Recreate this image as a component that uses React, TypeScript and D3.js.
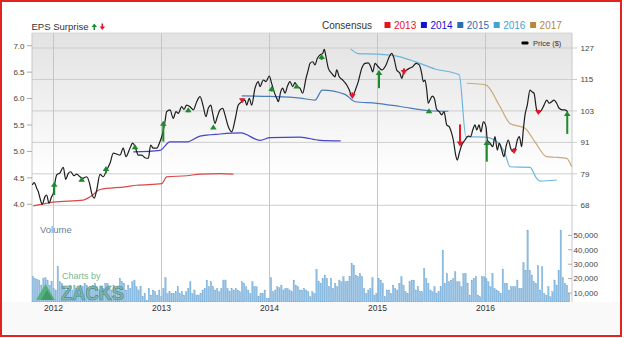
import React from "react";
import * as d3 from "d3";

// ---------- axis ticks ----------
const yearTicks = [2012, 2013, 2014, 2015, 2016];
const epsTicks = [4.0, 4.5, 5.0, 5.5, 6.0, 6.5, 7.0];
const priceTicks = [67.5, 79.4, 91.3, 103.2, 115.1, 127.0];
const volumeTicks = [10000, 20000, 30000, 40000, 50000];

// ---------- price (decimal year, $) ----------
const priceDates = [
  2011.804, 2011.822, 2011.845, 2011.859, 2011.875, 2011.896, 2011.921, 2011.937, 2011.958, 2011.983,
  2011.998, 2012.007, 2012.03, 2012.06, 2012.091, 2012.113, 2012.137, 2012.159, 2012.19, 2012.215,
  2012.245, 2012.27, 2012.307, 2012.332, 2012.354, 2012.378, 2012.4, 2012.431, 2012.461, 2012.493,
  2012.523, 2012.554, 2012.585, 2012.616, 2012.646, 2012.671, 2012.708, 2012.733, 2012.755, 2012.785,
  2012.817, 2012.847, 2012.878, 2012.9, 2012.924, 2012.956, 2012.986, 2013.007, 2013.032, 2013.048,
  2013.079, 2013.109, 2013.134, 2013.156, 2013.187, 2013.208, 2013.233, 2013.264, 2013.295, 2013.326,
  2013.357, 2013.387, 2013.412, 2013.433, 2013.456, 2013.474, 2013.495, 2013.517, 2013.542, 2013.567,
  2013.588, 2013.619, 2013.65, 2013.681, 2013.711, 2013.743, 2013.773, 2013.789, 2013.813, 2013.835,
  2013.866, 2013.896, 2013.912, 2013.943, 2013.968, 2013.998, 2014.02, 2014.042, 2014.067, 2014.082,
  2014.104, 2014.122, 2014.144, 2014.165, 2014.19, 2014.215, 2014.236, 2014.257, 2014.282, 2014.307,
  2014.338, 2014.359, 2014.375, 2014.4, 2014.421, 2014.443, 2014.468, 2014.493, 2014.507, 2014.523,
  2014.545, 2014.576, 2014.607, 2014.622, 2014.646, 2014.678, 2014.715, 2014.739, 2014.761, 2014.776,
  2014.801, 2014.822, 2014.854, 2014.884, 2014.915, 2014.937, 2014.956, 2014.977, 2015.007, 2015.039,
  2015.079, 2015.109, 2015.132, 2015.153, 2015.178, 2015.208, 2015.224, 2015.245, 2015.27, 2015.295,
  2015.326, 2015.357, 2015.387, 2015.409, 2015.424, 2015.44, 2015.456, 2015.47, 2015.486, 2015.507,
  2015.526, 2015.548, 2015.572, 2015.595, 2015.616, 2015.641, 2015.665, 2015.687, 2015.702, 2015.724,
  2015.739, 2015.757, 2015.78, 2015.81, 2015.841, 2015.863, 2015.882, 2015.903, 2015.919, 2015.94,
  2015.958, 2015.98, 2016.005, 2016.017, 2016.042, 2016.067, 2016.088, 2016.109, 2016.128, 2016.15,
  2016.171, 2016.19, 2016.211, 2016.233, 2016.252, 2016.273, 2016.295, 2016.313, 2016.335, 2016.35,
  2016.366, 2016.387, 2016.412, 2016.428, 2016.449, 2016.474, 2016.498, 2016.52, 2016.542, 2016.567,
  2016.591, 2016.613, 2016.634, 2016.659, 2016.682, 2016.711, 2016.736, 2016.761,
];
const priceValues = [
  75.2, 76.1, 73.9, 72.7, 70.2, 67.9, 70.8, 71.4, 68.3, 70.8,
  72.0, 74.5, 79.0, 79.8, 81.9, 77.3, 79.6, 80.2, 78.7, 79.3,
  78.3, 77.7, 78.3, 76.1, 72.0, 70.2, 73.3, 79.2, 78.3, 80.9,
  83.4, 87.2, 86.9, 86.5, 89.1, 85.9, 89.1, 91.0, 89.7, 86.5,
  86.5, 85.5, 85.3, 90.3, 89.1, 89.1, 91.6, 94.1, 99.1, 102.9,
  103.6, 100.4, 102.9, 102.3, 104.8, 103.8, 105.4, 104.8, 103.6, 106.7,
  108.6, 104.8, 101.0, 104.2, 105.4, 102.3, 98.5, 101.0, 103.6, 104.2,
  101.7, 97.2, 95.3, 99.8, 105.4, 106.7, 107.3, 105.4, 108.0, 105.4,
  111.8, 114.3, 112.4, 114.9, 114.3, 116.4, 113.6, 110.5, 108.0, 106.7,
  110.5, 111.8, 109.9, 112.4, 114.3, 112.4, 113.9, 112.4, 111.8, 109.9,
  115.5, 118.7, 121.2, 121.8, 120.6, 123.1, 124.4, 125.0, 126.5, 123.7,
  119.3, 117.4, 116.1, 118.7, 116.1, 114.9, 113.0, 111.1, 108.6, 109.2,
  111.8, 114.3, 119.3, 121.2, 121.4, 119.9, 118.0, 121.2, 119.9, 118.7,
  120.6, 123.7, 125.0, 123.1, 118.7, 117.4, 115.5, 118.0, 118.7, 119.3,
  119.9, 121.2, 120.6, 117.4, 114.3, 114.9, 111.1, 106.1, 107.3, 108.8,
  108.0, 103.8, 102.9, 101.7, 102.9, 97.9, 97.2, 94.7, 92.2, 86.5,
  84.6, 87.2, 90.3, 92.2, 93.7, 93.5, 96.0, 97.9, 96.0, 97.9,
  95.3, 99.1, 97.2, 92.2, 91.0, 89.7, 93.5, 88.4, 91.0, 88.4,
  85.9, 89.7, 92.2, 89.1, 87.8, 88.4, 92.2, 93.5, 89.7, 96.0,
  101.7, 105.4, 111.1, 110.5, 109.9, 103.6, 102.5, 103.6, 105.4, 107.3,
  106.1, 106.7, 107.3, 106.1, 104.2, 103.6, 103.6, 102.9,
];

// ---------- consensus EPS estimates ----------
const cons2013Dates = [2011.813, 2011.998, 2012.276, 2012.354, 2012.431, 2012.662, 2012.77, 2013.002, 2013.048, 2013.233, 2013.357, 2013.542, 2013.665];
const cons2013Values = [3.97, 4.04, 4.08, 4.16, 4.28, 4.33, 4.36, 4.39, 4.52, 4.54, 4.57, 4.58, 4.57];
const cons2014Dates = [2012.739, 2012.986, 2013.079, 2013.233, 2013.357, 2013.542, 2013.736, 2013.912, 2014.005, 2014.282, 2014.468, 2014.659];
const cons2014Values = [4.99, 5.02, 5.18, 5.18, 5.29, 5.33, 5.35, 5.21, 5.26, 5.27, 5.21, 5.2];
const cons2015Dates = [2013.743, 2014.005, 2014.282, 2014.421, 2014.489, 2014.699, 2014.792, 2014.993, 2015.208, 2015.486, 2015.656];
const cons2015Values = [6.05, 6.04, 6.01, 5.97, 6.16, 6.08, 5.94, 5.91, 5.85, 5.77, 5.76];
const cons2016Dates = [2014.752, 2014.822, 2014.998, 2015.208, 2015.347, 2015.532, 2015.757, 2015.819, 2016.001, 2016.088, 2016.181, 2016.227, 2016.412, 2016.474, 2016.505, 2016.659];
const cons2016Values = [6.94, 6.85, 6.84, 6.79, 6.7, 6.56, 6.45, 5.28, 5.27, 5.21, 4.96, 4.71, 4.7, 4.49, 4.44, 4.46];
const cons2017Dates = [2015.826, 2016.001, 2016.134, 2016.227, 2016.366, 2016.458, 2016.567, 2016.644, 2016.752, 2016.798];
const cons2017Values = [6.29, 6.26, 5.85, 5.53, 5.44, 5.18, 4.9, 4.89, 4.87, 4.71];

const consensusYears = ["2013", "2014", "2015", "2016", "2017"];
const consensusColors = ["#e3161e", "#1212d2", "#2c6db2", "#43a2d2", "#b8863e"];
const consensusLineColors = ["#d94848", "#4545c4", "#4a7cba", "#6cb4dc", "#c9a97c"];

// ---------- EPS surprises (date, price at tail, price at head) ----------
const surpriseDates = [2012.007, 2012.261, 2012.486, 2012.755, 2013.017, 2013.248, 2013.48, 2013.748, 2014.02, 2014.252, 2014.483, 2014.767, 2015.014, 2015.245, 2015.477, 2015.764, 2016.012, 2016.264, 2016.489, 2016.757];
const surpriseTail = [71.4, 76.4, 79.6, 88.7, 91.6, 102.7, 96.4, 108.0, 110.5, 112.1, 122.5, 110.2, 111.8, 119.3, 102.9, 98.1, 84.0, 89.1, 103.6, 94.5];
const surpriseHead = [76.4, 78.3, 82.4, 90.6, 99.5, 104.6, 98.1, 106.1, 112.6, 113.6, 124.7, 107.7, 118.7, 116.8, 104.2, 89.7, 92.2, 86.9, 101.7, 103.2];

// ---------- weekly volume (thousands) ----------
const volumeStart = 2011.81;
const weeklyVolumeK = [
  21.3, 20.1, 19.6, 19.0, 15.5, 20.1, 20.6, 19.0, 15.5, 17.8, 13.2, 12.1, 28.2, 17.8, 16.7, 14.4, 12.1, 13.2, 15.5, 12.1,
  15.5, 13.2, 12.1, 15.5, 14.4, 16.7, 15.5, 13.2, 14.4, 15.5, 16.7, 14.4, 12.1, 14.4, 13.2, 16.7, 16.7, 13.2, 12.1, 15.5,
  13.2, 14.4, 20.1, 17.8, 16.7, 12.1, 15.5, 13.2, 17.8, 19.0, 14.4, 12.1,
  14.4, 7.4, 9.7, 5.1, 13.2, 8.6, 12.1, 10.9, 8.6, 12.1, 7.4, 13.2, 20.6, 9.7, 10.9, 9.7, 9.7, 10.9, 14.4, 9.7,
  10.9, 8.6, 10.9, 13.2, 17.8, 9.7, 12.1, 8.6, 8.6, 9.7, 12.1, 13.2, 19.0, 14.4, 17.8, 14.4, 12.1, 13.2, 10.9, 13.2,
  19.0, 19.0, 13.2, 10.9, 13.2, 12.1, 13.2, 12.1, 10.9, 17.8, 16.7, 14.4, 12.1,
  9.7, 17.8, 14.4, 14.4, 7.4, 9.7, 9.7, 12.1, 6.3, 6.3, 20.6, 10.9, 12.1, 14.4, 13.7, 15.5, 12.1, 13.2, 13.2, 12.1,
  10.9, 19.0, 15.5, 14.4, 12.1, 12.1, 13.2, 12.1, 10.9, 7.4, 10.9, 9.7, 26.4, 17.8, 16.7, 20.1, 22.5, 20.1, 14.4, 20.1,
  13.2, 16.7, 14.4, 19.0, 17.8, 21.3, 17.8, 17.8, 21.3, 30.5, 29.3, 22.5, 21.3,
  23.6, 21.3, 13.2, 9.7, 12.1, 13.2, 20.6, 8.6, 9.7, 20.1, 19.0, 16.7, 7.4, 12.1, 12.1, 9.7, 15.5, 13.2, 12.1, 16.7,
  21.3, 15.5, 10.9, 9.7, 17.8, 19.0, 19.0, 12.1, 14.4, 10.9, 10.9, 27.1, 20.1, 16.7, 12.1, 10.9, 14.4, 9.7, 10.9, 14.4,
  39.8, 16.7, 23.6, 17.8, 19.0, 20.1, 24.8, 17.8, 17.8, 14.4, 23.6, 23.6,
  16.7, 8.6, 19.0, 20.1, 21.3, 8.6, 7.4, 21.3, 21.3, 20.1, 17.8, 14.4, 23.6, 13.2, 12.1, 10.9, 9.7, 26.6, 16.7, 16.7,
  12.1, 14.4, 14.4, 14.4, 19.0, 13.2, 13.2, 31.2, 25.9, 53.7, 25.9, 22.5, 17.8, 16.7, 28.9, 12.1, 28.2, 9.7, 8.6, 14.4,
  7.4, 10.9, 19.0, 15.5, 25.9, 53.7, 20.6, 16.7, 15.5, 9.7,
];

const W = 624;
const H = 338;
const PL = 32;
const PR = 572;
const PT = 33;
const VB = 302;
const FONT = "Arial, 'Liberation Sans', Helvetica, sans-serif";

function Arrow({ x, yHead, yTail, color }: { x: number; yHead: number; yTail: number; color: string }) {
  const dir = yHead < yTail ? 1 : -1;
  const headH = 5;
  const headW = 3.3;
  const base = yHead + dir * headH;
  const long = Math.abs(yTail - yHead) > headH;
  return (
    <g>
      {long && <line x1={x} x2={x} y1={base - dir * 0.5} y2={yTail} stroke={color} strokeWidth={2} />}
      <path d={`M${x - headW},${base} L${x},${yHead} L${x + headW},${base} Z`} fill={color} />
    </g>
  );
}

export default function App() {
  const x = d3.scaleLinear().domain([2011.801, 2016.801]).range([PL, PR]);
  const yEps = d3.scaleLinear().domain([4, 7]).range([204.3, 45.7]);
  const yPrice = d3.scaleLinear().domain([67.5, 127]).range([205.3, 48]);
  const yVol = d3.scaleLinear().domain([0, 50000]).range([307.4, 235.4]);

  const priceData = priceDates.map((d, i) => [d, priceValues[i]] as [number, number]);
  const priceLine = d3
    .line<[number, number]>()
    .x((d) => x(d[0]))
    .y((d) => yPrice(d[1]))
    .curve(d3.curveMonotoneX);

  const epsLine = d3
    .line<[number, number]>()
    .x((d) => x(d[0]))
    .y((d) => yEps(d[1]))
    .curve(d3.curveMonotoneX);

  const consensusDates = [cons2013Dates, cons2014Dates, cons2015Dates, cons2016Dates, cons2017Dates];
  const consensusValues = [cons2013Values, cons2014Values, cons2015Values, cons2016Values, cons2017Values];

  const weekStep = 7 / 365.25;
  const barW = (x(weekStep) - x(0)) * 0.7;

  const fmtPrice = d3.format(".0f");
  const fmtEps = d3.format(".1f");
  const fmtVol = d3.format(",");

  return (
    <svg
      width={W}
      height={H}
      style={{ position: "fixed", left: 0, top: 0, background: "#fff" }}
      fontFamily={FONT}
    >
      <defs>
        <linearGradient id="bg" x1="0" y1={PT} x2="0" y2={175} gradientUnits="userSpaceOnUse">
          <stop offset="0" stopColor="#e2e2e2" />
          <stop offset="1" stopColor="#ffffff" />
        </linearGradient>
        <clipPath id="plot">
          <rect x={PL} y={PT} width={PR - PL} height={VB - PT} />
        </clipPath>
      </defs>

      <rect x={0} y={0} width={W} height={H} fill="#fff" />
      <rect x={2} y={VB} width={618} height={334 - VB} fill="#f9f9f9" />
      {/* price panel background */}
      <rect x={PL} y={PT} width={PR - PL} height={yPrice(67.5) - PT} fill="url(#bg)" />

      {/* horizontal grid */}
      {priceTicks.map((t) => (
        <line key={"hg" + t} x1={PL} x2={PR + 5} y1={yPrice(t)} y2={yPrice(t)} stroke="#cdcdcd" strokeWidth={1} />
      ))}
      {/* vertical grid */}
      {yearTicks.map((t) => (
        <line key={"vg" + t} x1={x(t)} x2={x(t)} y1={PT} y2={VB} stroke="#c6c6c6" strokeWidth={1} />
      ))}
      {/* frame lines */}
      <line x1={PL} x2={PL} y1={PT} y2={VB} stroke="#c8c8c8" />
      <line x1={PR} x2={PR} y1={PT} y2={VB} stroke="#c8c8c8" />
      <line x1={PL} x2={PR} y1={PT} y2={PT} stroke="#d8d8d8" />

      {/* volume ticks */}
      {volumeTicks.map((t) => (
        <g key={"vt" + t}>
          <line x1={PR - 4} x2={PR} y1={yVol(t)} y2={yVol(t)} stroke="#aaa" />
          <text x={PR + 1.5} y={yVol(t)} dy="0.35em" fontSize={8} fill="#444">
            {fmtVol(t)}
          </text>
        </g>
      ))}

      {/* volume bars */}
      <g clipPath="url(#plot)">
        {weeklyVolumeK.map((v, i) => {
          const cx = x(volumeStart + i * weekStep);
          const yy = yVol(v * 1000);
          return (
            <rect key={"vb" + i} x={cx - barW / 2} y={yy} width={barW} height={VB - yy} fill="#8dbde2" stroke="#6fa6d3" strokeWidth={0.3} />
          );
        })}
      </g>

      {/* Zacks watermark (over the bars) */}
      <g opacity={0.8}>
        <path d="M36,300 L45.5,284 L55,300 Z" fill="#3fb065" />
        <path d="M41,300 L47,290 L53,300 Z" fill="#2e8f50" />
        <text x={62} y={279} fontSize={9} fill="#5aa672">
          Charts by
        </text>
        <text
          x={61}
          y={299.5}
          fontSize={20}
          fontWeight="bold"
          fill="#7fb3a6"
          stroke="#347f6d"
          strokeWidth={0.7}
          textLength={63}
          lengthAdjust="spacingAndGlyphs"
        >
          ZACKS
        </text>
      </g>

      <text x={40} y={233} fontSize={9.5} fill="#6b7f9e">
        Volume
      </text>

      {/* consensus lines */}
      <g clipPath="url(#plot)">
        {consensusDates.map((ds, k) => (
          <path
            key={"cl" + k}
            d={epsLine(ds.map((d, i) => [d, consensusValues[k][i]] as [number, number])) || ""}
            fill="none"
            stroke={consensusLineColors[k]}
            strokeWidth={1.2}
          />
        ))}
        {/* price */}
        <path d={priceLine(priceData) || ""} fill="none" stroke="#1d1d1d" strokeWidth={1.2} />
        {/* surprises */}
        {surpriseDates.map((d, i) => {
          const up = surpriseHead[i] > surpriseTail[i];
          return (
            <Arrow
              key={"ar" + i}
              x={x(d)}
              yHead={yPrice(surpriseHead[i])}
              yTail={yPrice(surpriseTail[i])}
              color={up ? "#1f8a2e" : "#e0192b"}
            />
          );
        })}
      </g>

      {/* left EPS axis */}
      {epsTicks.map((t) => (
        <g key={"et" + t}>
          <line x1={PL - 5} x2={PL} y1={yEps(t)} y2={yEps(t)} stroke="#aaa" />
          <text x={24.5} y={yEps(t)} dy="0.35em" fontSize={8} fill="#444" textAnchor="end">
            {fmtEps(t)}
          </text>
        </g>
      ))}
      {/* right price axis */}
      {priceTicks.map((t) => (
        <text key={"pt" + t} x={PR + 8.5} y={yPrice(t)} dy="0.35em" fontSize={8} fill="#444">
          {fmtPrice(t)}
        </text>
      ))}
      {/* x axis labels */}
      {yearTicks.map((t) => (
        <text key={"xl" + t} x={x(t)} y={311} fontSize={8.5} fill="#333" textAnchor="middle">
          {t}
        </text>
      ))}

      {/* price legend */}
      <rect x={521.5} y={41.5} width={7} height={3} rx={1} fill="#000" />
      <text x={533} y={46} fontSize={7.5} fill="#333">
        Price ($)
      </text>

      {/* header */}
      <text x={31.5} y={29.5} fontSize={9.5} fill="#333">
        EPS Surprise
      </text>
      <g>
        <path d="M91.6,27 L94.3,23.6 L97,27 Z" fill="#1f8a2e" />
        <line x1={94.3} x2={94.3} y1={26.5} y2={30} stroke="#1f8a2e" strokeWidth={1.6} />
        <path d="M99.6,26.5 L102.3,30 L105,26.5 Z" fill="#e0192b" />
        <line x1={102.3} x2={102.3} y1={23.5} y2={27} stroke="#e0192b" strokeWidth={1.6} />
      </g>
      <text x={322} y={29} fontSize={10} fill="#333">
        Consensus
      </text>
      {consensusYears.map((yr, i) => (
        <g key={"lg" + yr}>
          <rect x={384.5 + i * 36.4} y={22} width={6} height={6} fill={consensusColors[i]} />
          <text x={394 + i * 36.4} y={29} fontSize={10} fill={consensusColors[i]}>
            {yr}
          </text>
        </g>
      ))}

      {/* outer red frame */}
      <rect x={1} y={1} width={620} height={335} fill="none" stroke="#e32222" strokeWidth={2} />
    </svg>
  );
}
